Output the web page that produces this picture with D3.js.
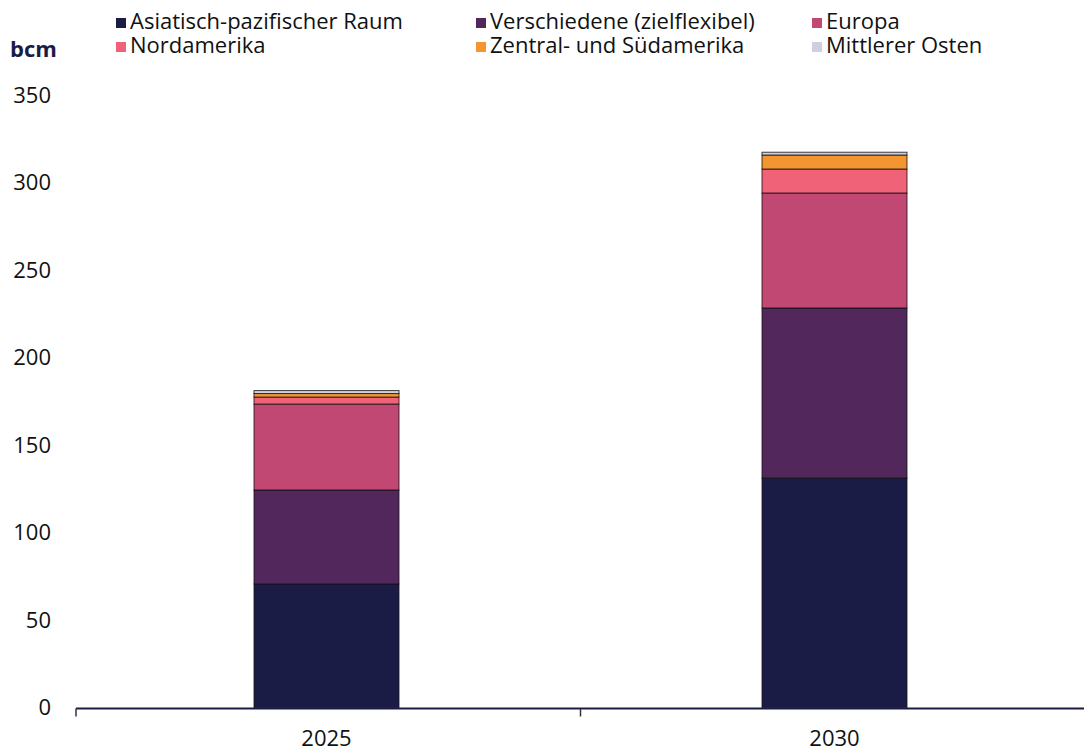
<!DOCTYPE html>
<html>
<head>
<meta charset="utf-8">
<script src="https://cdn.jsdelivr.net/npm/d3@7"></script>
<style>
  body { margin: 0; background: #fff; }
  svg { display: block; font-family: "Open Sans", "Noto Sans", sans-serif; }
</style>
</head>
<body>
<script>
// data
const years = ["2025", "2030"];
const regions = ["Asiatisch-pazifischer Raum", "Verschiedene (zielflexibel)", "Europa",
                 "Nordamerika", "Zentral- und Südamerika", "Mittlerer Osten"];
const colors = ["#1b1c45", "#52275c", "#c04873", "#f06277", "#f39531", "#d0cfe0"];
const values2025 = [70.6, 53.7, 49.1, 4.0, 2.0, 1.7];
const values2030 = [131.1, 97.2, 65.7, 13.7, 8.0, 1.6];
const yTicks = [0, 50, 100, 150, 200, 250, 300, 350];

const width = 1084, height = 749;
const margin = {top: 95, bottom: 41};
const fs = 22;

const rows = years.map((y, i) => {
  const vals = i === 0 ? values2025 : values2030;
  const r = {year: y};
  regions.forEach((k, j) => r[k] = vals[j]);
  return r;
});

const stack = d3.stack().keys(regions)(rows);

const svg = d3.select("body").append("svg")
    .attr("width", width)
    .attr("height", height);

const x = d3.scaleBand()
    .domain(years)
    .range([72.5, 1088.5]);

const y = d3.scaleLinear()
    .domain([0, 350])
    .range([height - margin.bottom - 0.5, margin.top]);

const barW = 145;
const color = d3.scaleOrdinal().domain(regions).range(colors);

svg.append("g")
  .selectAll("g")
  .data(stack)
  .join("g")
    .attr("fill", d => color(d.key))
  .selectAll("rect")
  .data(d => d)
  .join("rect")
    .attr("x", d => x(d.data.year) + x.bandwidth() / 2 - barW / 2)
    .attr("width", barW)
    .attr("y", d => y(d[1]))
    .attr("height", d => y(d[0]) - y(d[1]))
    .attr("stroke", "#111")
    .attr("stroke-opacity", 0.8)
    .attr("stroke-width", 1);

// y tick labels (no axis line)
svg.append("g")
  .selectAll("text")
  .data(yTicks)
  .join("text")
    .attr("x", 51)
    .attr("y", d => y(d))
    .attr("dy", "0.35em")
    .attr("text-anchor", "end")
    .attr("font-size", fs)
    .attr("fill", "#111")
    .text(d => d);

// x axis
const xAxis = svg.append("g")
    .attr("transform", `translate(0,${y(0) + 1})`);
xAxis.append("line")
    .attr("x1", 76).attr("x2", width)
    .attr("stroke", "#1b1c45").attr("stroke-width", 2);
xAxis.selectAll("line.tick")
  .data([76, x.range()[0] + x.step()])
  .join("line")
    .attr("class", "tick")
    .attr("x1", d => d).attr("x2", d => d)
    .attr("y1", 0).attr("y2", 8)
    .attr("stroke", "#333").attr("stroke-width", 1.5);
xAxis.selectAll("text")
  .data(years)
  .join("text")
    .attr("x", d => x(d) + x.bandwidth() / 2)
    .attr("y", 37)
    .attr("text-anchor", "middle")
    .attr("font-size", fs)
    .attr("fill", "#111")
    .text(d => d);

// unit label
svg.append("text")
    .attr("x", 10).attr("y", 57)
    .attr("font-size", fs)
    .attr("font-weight", "bold")
    .attr("fill", "#1b1c45")
    .text("bcm");

// legend
const legCols = [116, 476, 812];
const legend = svg.append("g")
  .selectAll("g")
  .data(regions)
  .join("g")
    .attr("transform", (d, i) => `translate(${legCols[i % 3]},${i < 3 ? 22 : 46})`);
legend.append("rect")
    .attr("x", 0).attr("y", -4)
    .attr("width", 10).attr("height", 10)
    .attr("fill", d => color(d));
legend.append("text")
    .attr("x", 14).attr("y", 0)
    .attr("dy", "0.32em")
    .attr("font-size", fs)
    .attr("fill", "#111")
    .text(d => d);
</script>
</body>
</html>
